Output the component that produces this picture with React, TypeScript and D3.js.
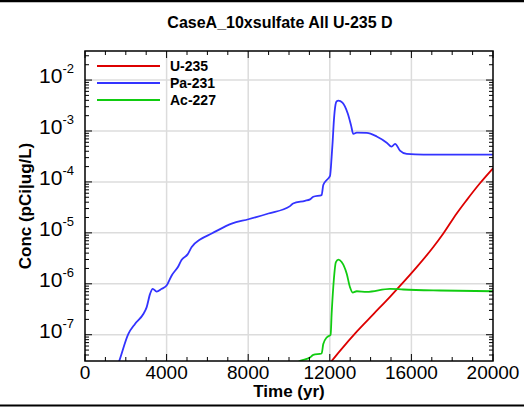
import React from "react";
import * as d3 from "d3";

// time (yr) / concentration (pCi/ug/L)
const u235Time = [12000, 12500, 13320, 14140, 14950, 15440, 16260, 17075, 17565, 18220, 18710, 19360, 20000];
const u235Conc = [2.75e-8, 4.83e-8, 1.15e-7, 2.54e-7, 5.55e-7, 9.06e-7, 2.12e-6, 5.27e-6, 9.7e-6, 2.4e-5, 4.4e-5, 9.4e-5, 1.85e-4];

const pa231Time = [1600, 1680, 2120, 2450, 2860, 3020, 3190, 3320, 3510, 3760, 4000, 4250, 4570, 4740, 5030, 5230, 5640, 6210, 7190, 8010, 8990, 10050, 10200, 10780, 11030, 11190, 11600, 11680, 11850, 12010, 12090, 12140, 12200, 12280, 12340, 12420, 12620, 12880, 13040, 13150, 13320, 13810, 14300, 14790, 15030, 15200, 15440, 15770, 16590, 20000];
const pa231Conc = [2.5e-8, 3.07e-8, 1.03e-7, 1.63e-7, 2.56e-7, 3.45e-7, 6.35e-7, 7.96e-7, 7.05e-7, 7.96e-7, 9.25e-7, 1.46e-6, 2.19e-6, 2.97e-6, 3.78e-6, 5.27e-6, 7.38e-6, 9.69e-6, 1.52e-5, 1.85e-5, 2.4e-5, 3.35e-5, 3.78e-5, 4.26e-5, 4.54e-5, 5.11e-5, 5.52e-5, 8.69e-5, 1.09e-4, 1.31e-4, 3.1e-4, 6.2e-4, 1.6e-3, 3.3e-3, 3.85e-3, 3.95e-3, 3.6e-3, 2.2e-3, 1.3e-3, 8.8e-4, 9.3e-4, 9.2e-4, 7.8e-4, 5.9e-4, 4.94e-4, 5.6e-4, 4.12e-4, 3.55e-4, 3.44e-4, 3.44e-4];

const ac227Time = [10300, 10460, 11030, 11190, 11600, 11680, 11850, 12040, 12090, 12170, 12300, 12420, 12580, 12830, 12990, 13120, 13320, 13810, 14950, 15600, 17400, 20000];
const ac227Conc = [2.6e-8, 2.95e-8, 3.56e-8, 4.03e-8, 4.28e-8, 6.56e-8, 8.85e-8, 1.0e-7, 2.56e-7, 8.57e-7, 2.67e-6, 2.97e-6, 2.67e-6, 1.57e-6, 8.57e-7, 6.73e-7, 7.14e-7, 6.95e-7, 7.96e-7, 7.72e-7, 7.38e-7, 7.14e-7];

const seriesNames = ["U-235", "Pa-231", "Ac-227"];
const seriesColors = ["#dd0000", "#3333ff", "#11cc11"];
const xTicks = [0, 4000, 8000, 12000, 16000, 20000];
const yExponents = [-7, -6, -5, -4, -3, -2];

const W = 524;
const H = 407;
const left = 85;
const right = 493;
const top = 51;
const bottom = 361;

const font = "'Liberation Sans', Arial, sans-serif";

export default function App() {
  const x = d3.scaleLinear().domain([0, 20000]).range([left, right]);
  const y = d3.scaleLog().domain([3.05e-8, 0.0372]).range([bottom, top]);

  const series = [
    { t: u235Time, c: u235Conc },
    { t: pa231Time, c: pa231Conc },
    { t: ac227Time, c: ac227Conc },
  ];

  const line = d3
    .line<[number, number]>()
    .x((d) => x(d[0]))
    .y((d) => y(d[1]))
    .curve(d3.curveMonotoneX);

  const minorX = d3.range(0, 20001, 1000);
  const minorY: number[] = [];
  for (let e = -8; e <= -2; e++) {
    for (let m = 1; m < 10; m++) {
      const v = m * Math.pow(10, e);
      if (v >= 3.05e-8 && v <= 0.0372) minorY.push(v);
    }
  }

  return (
    <svg width={W} height={H} style={{ position: "absolute", left: 0, top: 0 }} fontFamily={font}>
      <rect x={0} y={0} width={W} height={H} fill="white" />
      <line x1={0} x2={W} y1={1} y2={1} stroke="black" strokeWidth={2.5} />
      <line x1={0} x2={W} y1={405.5} y2={405.5} stroke="black" strokeWidth={2} />

      <defs>
        <clipPath id="plot">
          <rect x={left} y={top} width={right - left} height={bottom - top} />
        </clipPath>
      </defs>

      {/* grid */}
      {xTicks.slice(1, -1).map((t) => (
        <line key={"gx" + t} x1={x(t)} x2={x(t)} y1={top} y2={bottom} stroke="#dcdcdc" strokeWidth={1.5} />
      ))}
      {yExponents.map((e) => (
        <line key={"gy" + e} x1={left} x2={right} y1={y(Math.pow(10, e))} y2={y(Math.pow(10, e))} stroke="#dcdcdc" strokeWidth={1.5} />
      ))}

      {/* curves */}
      <g clipPath="url(#plot)">
        {series.map((s, i) => (
          <path
            key={seriesNames[i]}
            d={line(s.t.map((t, j) => [t, s.c[j]] as [number, number])) || ""}
            fill="none"
            stroke={seriesColors[i]}
            strokeWidth={1.8}
          />
        ))}
      </g>

      {/* ticks */}
      {minorX.map((t) => {
        const len = t % 4000 === 0 ? 7 : 4;
        return (
          <g key={"tx" + t} stroke="black" strokeWidth={1}>
            <line x1={x(t)} x2={x(t)} y1={bottom} y2={bottom - len} />
            <line x1={x(t)} x2={x(t)} y1={top} y2={top + len} />
          </g>
        );
      })}
      {minorY.map((v, i) => {
        const major = Math.abs(Math.log10(v) - Math.round(Math.log10(v))) < 1e-9;
        const len = major ? 7 : 4;
        return (
          <g key={"ty" + i} stroke="black" strokeWidth={1}>
            <line x1={left} x2={left + len} y1={y(v)} y2={y(v)} />
            <line x1={right} x2={right - len} y1={y(v)} y2={y(v)} />
          </g>
        );
      })}
      <rect x={left} y={top} width={right - left} height={bottom - top} fill="none" stroke="black" strokeWidth={1.5} />

      {/* tick labels */}
      {xTicks.map((t) => (
        <text key={"lx" + t} x={x(t)} y={bottom + 18} textAnchor="middle" fontSize={19}>
          {t}
        </text>
      ))}
      {yExponents.map((e) => (
        <text key={"ly" + e} x={left - 11} y={y(Math.pow(10, e)) + 3} textAnchor="end" fontSize={21}>
          10
          <tspan fontSize={13} dy={-10}>
            {e}
          </tspan>
        </text>
      ))}

      {/* titles */}
      <text x={280} y={28} textAnchor="middle" fontSize={16} fontWeight="bold">
        CaseA_10xsulfate All U-235 D
      </text>
      <text x={289} y={397} textAnchor="middle" fontSize={17} fontWeight="bold">
        Time (yr)
      </text>
      <text transform="translate(31,206) rotate(-90)" textAnchor="middle" fontSize={17} fontWeight="bold">
        Conc (pCi|ug/L)
      </text>

      {/* legend */}
      {seriesNames.map((n, i) => (
        <g key={"lg" + n}>
          <line x1={97} x2={160} y1={66 + i * 17} y2={66 + i * 17} stroke={seriesColors[i]} strokeWidth={2} />
          <text x={170} y={71 + i * 17} fontSize={14} fontWeight="bold">
            {n}
          </text>
        </g>
      ))}
    </svg>
  );
}
